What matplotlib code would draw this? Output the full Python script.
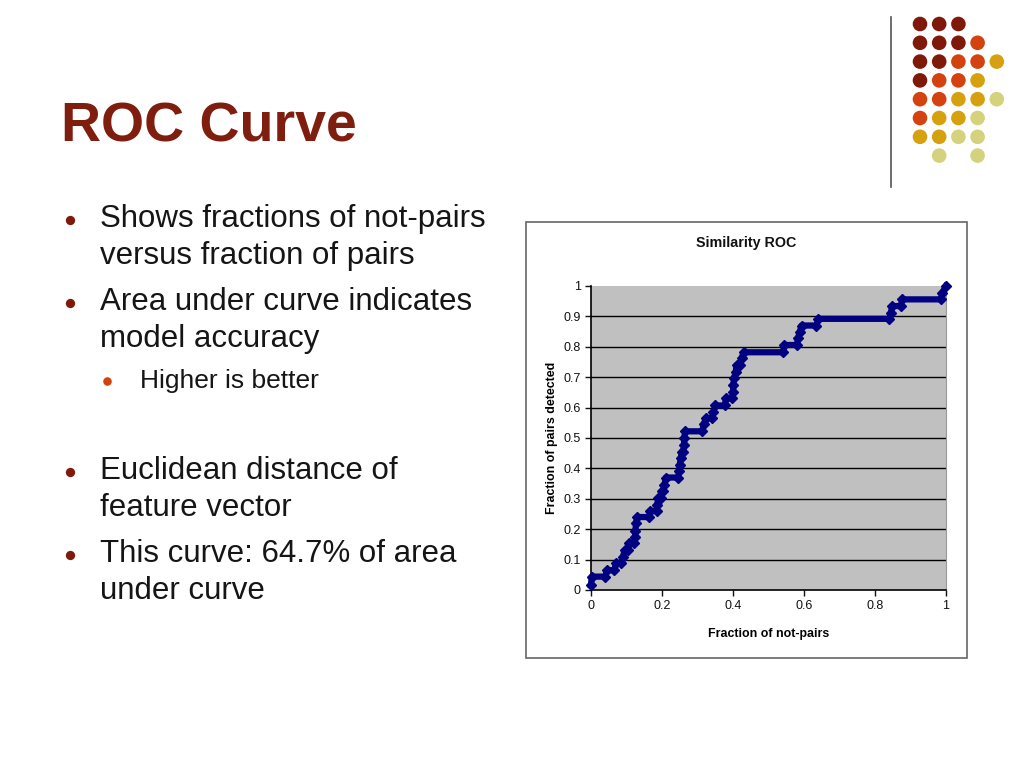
import matplotlib
matplotlib.use("Agg")
import matplotlib.pyplot as plt
from matplotlib.patches import Rectangle
import numpy as np

plt.rcParams['font.family'] = ['Liberation Sans', 'DejaVu Sans']

# ROC curve vertices
fpr = [0.000, 0.002, 0.040, 0.045, 0.066, 0.070, 0.085, 0.090, 0.095, 0.104,
       0.108, 0.122, 0.124, 0.125, 0.127, 0.130, 0.163, 0.167, 0.185, 0.186,
       0.190, 0.196, 0.200, 0.204, 0.207, 0.211, 0.245, 0.249, 0.250, 0.253,
       0.256, 0.260, 0.262, 0.263, 0.265, 0.313, 0.318, 0.323, 0.340, 0.345,
       0.350, 0.377, 0.380, 0.397, 0.400, 0.401, 0.403, 0.408, 0.410, 0.420,
       0.424, 0.430, 0.540, 0.545, 0.580, 0.583, 0.588, 0.593, 0.635, 0.640,
       0.840, 0.845, 0.848, 0.872, 0.877, 0.985, 0.990, 1.000]
tpr = [0.016, 0.044, 0.044, 0.065, 0.065, 0.088, 0.088, 0.110, 0.130, 0.130,
       0.153, 0.153, 0.175, 0.195, 0.220, 0.240, 0.240, 0.260, 0.260, 0.280,
       0.302, 0.302, 0.325, 0.325, 0.347, 0.370, 0.370, 0.392, 0.412, 0.435,
       0.455, 0.455, 0.478, 0.500, 0.522, 0.522, 0.545, 0.565, 0.565, 0.585,
       0.607, 0.607, 0.630, 0.630, 0.652, 0.675, 0.697, 0.718, 0.740, 0.740,
       0.762, 0.782, 0.782, 0.806, 0.806, 0.828, 0.848, 0.870, 0.870, 0.892,
       0.892, 0.912, 0.934, 0.934, 0.956, 0.956, 0.978, 1.000]

title = 'ROC Curve'
bullets = [
    (1, ['Shows fractions of not-pairs', 'versus fraction of pairs'], 227),
    (1, ['Area under curve indicates', 'model accuracy'], 310),
    (2, ['Higher is better'], 388),
    (1, ['Euclidean distance of', 'feature vector'], 479),
    (1, ['This curve: 64.7% of area', 'under curve'], 562),
]

# decorative dot grid (0 = empty, 1..4 = colour index)
dot_grid = [
    [1, 1, 1, 0, 0],
    [1, 1, 1, 2, 0],
    [1, 1, 2, 2, 3],
    [1, 2, 2, 3, 0],
    [2, 2, 3, 3, 4],
    [2, 3, 3, 4, 0],
    [3, 3, 4, 4, 0],
    [0, 4, 0, 4, 0],
]
dot_colors = {1: '#7f1a0b', 2: '#d4420f', 3: '#d6a10e', 4: '#d4d27c'}

W, H = 1024, 768
fig = plt.figure(figsize=(W / 100, H / 100), dpi=100)
fig.patch.set_facecolor('white')

# slide layer in pixel coords
bg = fig.add_axes([0, 0, 1, 1])
bg.set_xlim(0, W)
bg.set_ylim(H, 0)
bg.axis('off')

bg.text(61, 142, title, fontsize=40, fontweight='bold', color='#7f1d0e', va='baseline')

for level, lines, base in bullets:
    if level == 1:
        x_dot, x_txt, fs, col, sz = 70, 100, 22.5, '#7f1a0b', 45
    else:
        x_dot, x_txt, fs, col, sz = 107, 140, 19, '#d4420f', 38
    bg.scatter([x_dot], [base - 7], s=sz, color=col, lw=0, zorder=3)
    for i, line in enumerate(lines):
        bg.text(x_txt, base + i * 37, line, fontsize=fs, color='#151515', va='baseline')

# vertical separator
bg.plot([891, 891], [17, 187], color='#555555', lw=1.2)

for r, row in enumerate(dot_grid):
    for c, v in enumerate(row):
        if v:
            bg.add_patch(plt.Circle((920 + c * 19.2, 24 + r * 18.8), 7.3, color=dot_colors[v], lw=0))

# chart frame
bg.add_patch(Rectangle((526, 222), 441, 436, fill=False, edgecolor='#666666', lw=1.2))
bg.text(746, 243, 'Similarity ROC', fontsize=10.3, fontweight='bold', ha='center', va='center', color='#111111')

ax = fig.add_axes([591 / W, 1 - 590 / H, 355 / W, 304 / H])
ax.set_facecolor('#c0c0c0')
ax.set_xlim(0, 1)
ax.set_ylim(0, 1)
ax.set_xticks(np.arange(0, 1.01, 0.2))
ax.set_xticklabels(['0', '0.2', '0.4', '0.6', '0.8', '1'])
ax.set_yticks(np.arange(0, 1.01, 0.1))
ax.set_yticklabels(['0', '0.1', '0.2', '0.3', '0.4', '0.5', '0.6', '0.7', '0.8', '0.9', '1'])
ax.tick_params(labelsize=9, direction='out', length=4, width=1, colors='#111111')
for y in np.arange(0.1, 0.95, 0.1):
    ax.axhline(y, color='black', lw=1, zorder=1)
ax.spines['top'].set_visible(False)
ax.spines['right'].set_color('#999999')
ax.spines['left'].set_linewidth(1.2)
ax.spines['bottom'].set_linewidth(1.2)

ax.plot(fpr, tpr, color='#000080', lw=4.5, marker='D', ms=5, zorder=3, clip_on=False)

ax.set_xlabel('Fraction of not-pairs', fontsize=8.9, fontweight='bold', labelpad=11)
ax.set_ylabel('Fraction of pairs detected', fontsize=8.9, fontweight='bold', labelpad=4)

fig.savefig('out.png', dpi=100)
